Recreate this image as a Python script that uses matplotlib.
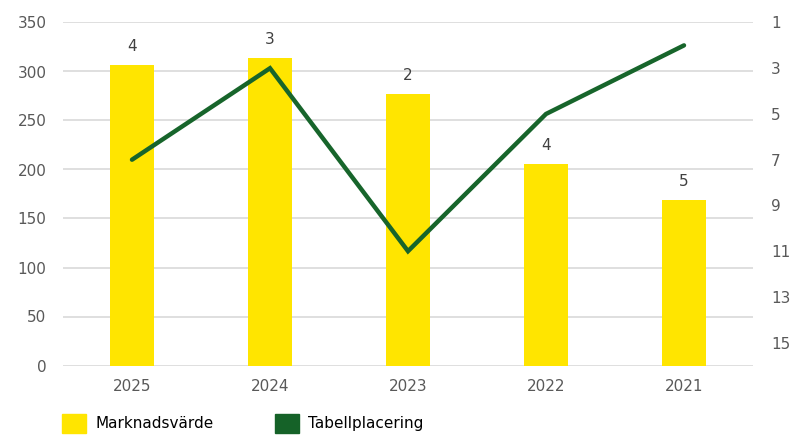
import matplotlib.pyplot as plt
from matplotlib.patches import Patch

# Data
years = ['2025', '2024', '2023', '2022', '2021']
marknadsvarde = [307, 314, 277, 206, 169]
bar_labels = ['4', '3', '2', '4', '5']
tabellplacering = [7, 3, 11, 5, 2]

yellow = '#FFE500'
green = '#17652B'
grey_text = '#595959'

plt.rcParams['font.family'] = ['DejaVu Sans']

fig = plt.figure(figsize=(7.95, 4.36), dpi=100)
ax = fig.add_axes([63 / 795, 1 - 365.5 / 436, 690 / 795, 343 / 436])

x = list(range(len(years)))
bars = ax.bar(x, marknadsvarde, width=0.32, color=yellow, zorder=2)
for rect, lab in zip(bars, bar_labels):
    ax.annotate(lab, (rect.get_x() + rect.get_width() / 2, rect.get_height()),
                xytext=(0, 8), textcoords='offset points', ha='center', va='bottom',
                fontsize=11, color='#404040')

ax.set_xlim(-0.5, len(years) - 0.5)
ax.set_ylim(0, 350)
ax.set_yticks(range(0, 351, 50))
ax.set_xticks(x)
ax.set_xticklabels(years)
ax.grid(axis='y', color='#d9d9d9', linewidth=1.2, zorder=0)
ax.set_axisbelow(True)
for s in ax.spines.values():
    s.set_visible(False)
ax.tick_params(axis='both', length=0, labelsize=11, colors=grey_text)
ax.tick_params(axis='x', pad=10)
ax.tick_params(axis='y', pad=12)

ax2 = ax.twinx()
ax2.plot(x, tabellplacering, color=green, linewidth=3.2, solid_capstyle='round',
         solid_joinstyle='miter', zorder=3)
ax2.set_ylim(16, 1)
ax2.set_yticks(range(1, 16, 2))
for s in ax2.spines.values():
    s.set_visible(False)
ax2.tick_params(axis='y', length=0, labelsize=11, colors=grey_text, pad=13)

handles = [Patch(color=yellow, label='Marknadsvärde'),
           Patch(color='#156228', label='Tabellplacering')]
fig.legend(handles=handles, loc='lower left', bbox_to_anchor=(48 / 795, -0.025),
           ncol=2, frameon=False, fontsize=11, handlelength=1.6, handleheight=1.6,
           columnspacing=4.0, handletextpad=0.6)

plt.savefig('out.png', dpi=100)
